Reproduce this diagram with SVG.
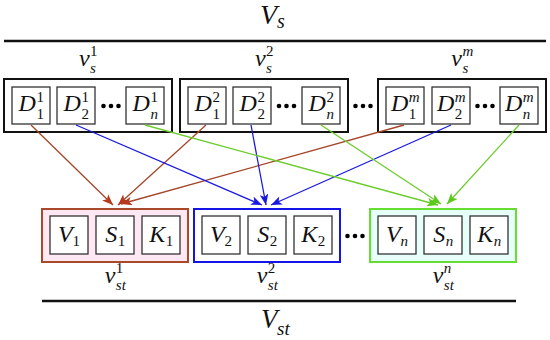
<svg xmlns="http://www.w3.org/2000/svg" width="550" height="340" viewBox="0 0 550 340">
<defs>
<style>
.m{font-family:"Liberation Serif","DejaVu Serif",serif;font-style:italic;font-size:24px;fill:#111}
.sc{font-family:"Liberation Serif","DejaVu Serif",serif;font-style:italic;font-size:15px;fill:#111}
.up{font-style:normal}
.e{text-anchor:end}
.outer{fill:#fff;stroke:#111;stroke-width:2}
.inner{fill:#fff;stroke:#333;stroke-width:1.3}
.rule{stroke:#111;stroke-width:2.5}
.red{stroke:#a4462a;stroke-width:1.3;fill:none}
.blue{stroke:#1818e0;stroke-width:1.3;fill:none}
.green{stroke:#6ccc2c;stroke-width:1.3;fill:none}
</style>
<marker id="ar" viewBox="0 0 10 8" refX="10" refY="4" markerWidth="11" markerHeight="8.8" markerUnits="userSpaceOnUse" orient="auto"><path d="M0,0 L10,4 L0,8 L2.5,4 z" fill="#b83a1e"/></marker>
<marker id="ab" viewBox="0 0 10 8" refX="10" refY="4" markerWidth="11" markerHeight="8.8" markerUnits="userSpaceOnUse" orient="auto"><path d="M0,0 L10,4 L0,8 L2.5,4 z" fill="#1818e0"/></marker>
<marker id="ag" viewBox="0 0 10 8" refX="10" refY="4" markerWidth="11" markerHeight="8.8" markerUnits="userSpaceOnUse" orient="auto"><path d="M0,0 L10,4 L0,8 L2.5,4 z" fill="#5cc81c"/></marker>
</defs>
<rect width="550" height="340" fill="#fff"/>

<g id="title-Vs">
<text class="m" x="260" y="24" style="font-size:28px">V</text>
<text class="m" x="277" y="28" style="font-size:20px">s</text>
</g>
<line class="rule" x1="4" y1="41" x2="546" y2="41"/>

<g id="vs1">
<text class="m e" x="89.6" y="66">v</text>
<text class="sc up" x="90.1" y="55.5">1</text>
<text class="sc" x="90.1" y="72.5">s</text>
<rect class="outer" x="4" y="79" width="168" height="53"/>
<rect class="inner" x="12" y="87" width="38" height="37"/>
<text class="m e" x="35.9" y="111">D</text><text class="sc up" x="36.4" y="102">1</text><text class="sc up" x="36.4" y="119">1</text>
<rect class="inner" x="57" y="87" width="38" height="37"/>
<text class="m e" x="80.9" y="111">D</text><text class="sc up" x="81.4" y="102">1</text><text class="sc up" x="81.4" y="119">2</text>
<circle cx="103.5" cy="106" r="2.3"/><circle cx="111" cy="106" r="2.3"/><circle cx="118.5" cy="106" r="2.3"/>
<rect class="inner" x="126" y="87" width="38" height="37"/>
<text class="m e" x="149.9" y="111">D</text><text class="sc up" x="150.4" y="102">1</text><text class="sc" x="150.4" y="119">n</text>
</g>

<g id="vs2">
<text class="m e" x="265.6" y="66">v</text>
<text class="sc up" x="266.1" y="55.5">2</text>
<text class="sc" x="266.1" y="72.5">s</text>
<rect class="outer" x="180" y="79" width="168" height="53"/>
<rect class="inner" x="188" y="87" width="38" height="37"/>
<text class="m e" x="211.9" y="111">D</text><text class="sc up" x="212.4" y="102">2</text><text class="sc up" x="212.4" y="119">1</text>
<rect class="inner" x="233" y="87" width="38" height="37"/>
<text class="m e" x="256.9" y="111">D</text><text class="sc up" x="257.4" y="102">2</text><text class="sc up" x="257.4" y="119">2</text>
<circle cx="279" cy="106" r="2.3"/><circle cx="286.5" cy="106" r="2.3"/><circle cx="294" cy="106" r="2.3"/>
<rect class="inner" x="302" y="87" width="38" height="37"/>
<text class="m e" x="325.9" y="111">D</text><text class="sc up" x="326.4" y="102">2</text><text class="sc" x="326.4" y="119">n</text>
</g>

<g id="dots-top">
<circle cx="355.5" cy="106" r="2.3"/><circle cx="363" cy="106" r="2.3"/><circle cx="370.5" cy="106" r="2.3"/>
</g>

<g id="vsm">
<text class="m e" x="462" y="66">v</text>
<text class="sc" x="462.5" y="55.5">m</text>
<text class="sc" x="462.5" y="72.5">s</text>
<rect class="outer" x="378" y="79" width="168" height="53"/>
<rect class="inner" x="386" y="87" width="38" height="37"/>
<text class="m e" x="408.3" y="111">D</text><text class="sc" x="408.8" y="102">m</text><text class="sc up" x="408.8" y="119">1</text>
<rect class="inner" x="432" y="87" width="38" height="37"/>
<text class="m e" x="454.3" y="111">D</text><text class="sc" x="454.8" y="102">m</text><text class="sc up" x="454.8" y="119">2</text>
<circle cx="477.5" cy="106" r="2.3"/><circle cx="485" cy="106" r="2.3"/><circle cx="492.5" cy="106" r="2.3"/>
<rect class="inner" x="500" y="87" width="38" height="37"/>
<text class="m e" x="522.3" y="111">D</text><text class="sc" x="522.8" y="102">m</text><text class="sc" x="522.8" y="119">n</text>
</g>

<g id="vst1">
<rect x="42" y="209" width="146" height="53" fill="#ffe8f4" stroke="#a84a2a" stroke-width="2"/>
<rect class="inner" x="50" y="216" width="38" height="38"/>
<text class="m e" x="72.6" y="242">V</text><text class="sc up" x="72.6" y="245.5">1</text>
<rect class="inner" x="96" y="216" width="38" height="38"/>
<text class="m e" x="117.25" y="242">S</text><text class="sc up" x="117.75" y="245.5">1</text>
<rect class="inner" x="142" y="216" width="38" height="38"/>
<text class="m e" x="165.25" y="242">K</text><text class="sc up" x="165.75" y="245.5">1</text>
<text class="m e" x="115.35" y="283">v</text>
<text class="sc up" x="115.85" y="273">1</text>
<text class="sc" x="115.85" y="289.5">st</text>
</g>

<g id="vst2">
<rect x="194" y="209" width="146" height="53" fill="#fff" stroke="#1414e6" stroke-width="2"/>
<rect class="inner" x="202" y="216" width="38" height="38"/>
<text class="m e" x="224.6" y="242">V</text><text class="sc up" x="224.6" y="245.5">2</text>
<rect class="inner" x="248" y="216" width="38" height="38"/>
<text class="m e" x="269.25" y="242">S</text><text class="sc up" x="269.75" y="245.5">2</text>
<rect class="inner" x="294" y="216" width="38" height="38"/>
<text class="m e" x="317.25" y="242">K</text><text class="sc up" x="317.75" y="245.5">2</text>
<text class="m e" x="267.35" y="283">v</text>
<text class="sc up" x="267.85" y="273">2</text>
<text class="sc" x="267.85" y="289.5">st</text>
</g>

<g id="dots-bottom">
<circle cx="347.5" cy="236" r="2.3"/><circle cx="355" cy="236" r="2.3"/><circle cx="362.5" cy="236" r="2.3"/>
</g>

<g id="vstn">
<rect x="370" y="209" width="146" height="53" fill="#e6fff8" stroke="#66dd33" stroke-width="2"/>
<rect class="inner" x="378" y="216" width="38" height="38"/>
<text class="m e" x="400.6" y="242">V</text><text class="sc" x="400.6" y="245.5">n</text>
<rect class="inner" x="424" y="216" width="38" height="38"/>
<text class="m e" x="445.25" y="242">S</text><text class="sc" x="445.75" y="245.5">n</text>
<rect class="inner" x="470" y="216" width="38" height="38"/>
<text class="m e" x="493.25" y="242">K</text><text class="sc" x="493.75" y="245.5">n</text>
<text class="m e" x="443.35" y="283">v</text>
<text class="sc" x="443.85" y="273">n</text>
<text class="sc" x="443.85" y="289.5">st</text>
</g>

<line class="rule" x1="42" y1="301" x2="516" y2="301"/>
<g id="title-Vst">
<text class="m" x="261" y="328" style="font-size:27px">V</text>
<text class="m" x="277" y="335" style="font-size:19px">st</text>
</g>

<g id="connectors">
<line class="red" x1="31" y1="125" x2="113" y2="205" marker-end="url(#ar)"/>
<line class="red" x1="206" y1="125" x2="118" y2="205" marker-end="url(#ar)"/>
<line class="red" x1="404" y1="125" x2="121" y2="204" marker-end="url(#ar)"/>
<line class="blue" x1="76" y1="125" x2="262" y2="205" marker-end="url(#ab)"/>
<line class="blue" x1="251" y1="125" x2="266" y2="205" marker-end="url(#ab)"/>
<line class="blue" x1="451" y1="125" x2="271" y2="205" marker-end="url(#ab)"/>
<line class="green" x1="145" y1="125" x2="438" y2="205" marker-end="url(#ag)"/>
<line class="green" x1="321" y1="125" x2="441" y2="204" marker-end="url(#ag)"/>
<line class="green" x1="519" y1="125" x2="447" y2="204" marker-end="url(#ag)"/>
</g>
</svg>
